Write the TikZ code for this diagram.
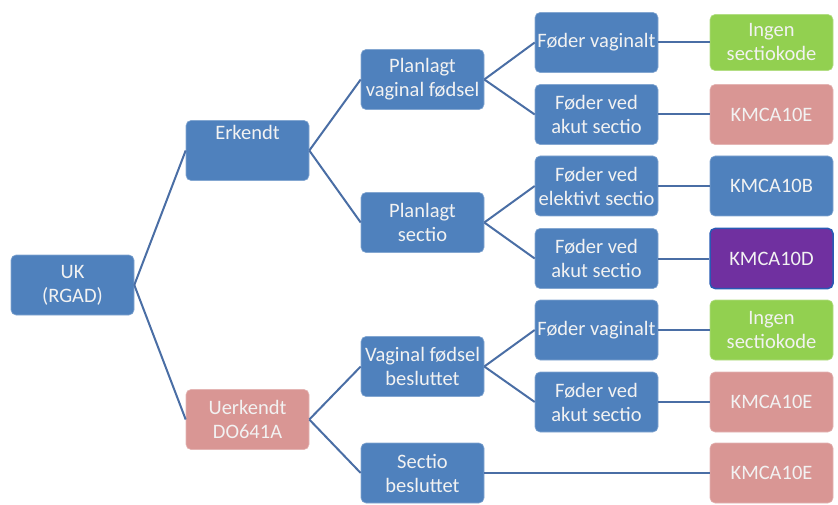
\documentclass[tikz,border=0pt]{standalone}
\usepackage{fontspec}
\setmainfont{Carlito}
\definecolor{bblue}{RGB}{79,129,189}
\definecolor{bpink}{RGB}{217,150,148}
\definecolor{bgreen}{RGB}{146,208,80}
\definecolor{bpurple}{RGB}{112,48,160}
\definecolor{bedge}{RGB}{40,90,180}
\definecolor{lnk}{RGB}{74,110,165}
\definecolor{txt}{RGB}{242,242,242}
\begin{document}
\begin{tikzpicture}[x=1pt,y=-1pt,
  box/.style={rectangle, rounded corners=5pt, minimum width=123pt, minimum height=60pt,
    inner sep=1pt, align=center, text=txt, font=\fontsize{20.5}{24}\selectfont,
    draw=white!80!black, line width=0.6pt},
  bluebox/.style={box, fill=bblue, draw=bblue!70!white},
  pinkbox/.style={box, fill=bpink, draw=bpink!70!white},
  greenbox/.style={box, fill=bgreen, draw=bgreen!70!white},
  purplebox/.style={box, fill=bpurple, draw=bedge, line width=1.5pt},
  link/.style={draw=lnk, line width=2pt}]
\useasboundingbox (0,0) rectangle (838,505);
% level 0
\node[bluebox] (uk) at (72.5,285) {UK\\(RGAD)};
% level 1
\node[bluebox] (erk) at (247.5,150.5) {\raisebox{36pt}{Erkendt}};
\node[pinkbox] (uerk) at (247.5,419.5) {Uerkendt\\DO641A};
% level 2
\node[bluebox] (pvf) at (422.5,79.5) {Planlagt\\vaginal fødsel};
\node[bluebox] (ps) at (422.5,222.5) {Planlagt\\sectio};
\node[bluebox] (vfb) at (422.5,366.5) {Vaginal fødsel\\besluttet};
\node[bluebox] (sb) at (422.5,473) {Sectio\\besluttet};
% level 3
\node[bluebox] (fv1) at (596.5,42.5) {Føder vaginalt};
\node[bluebox] (fa1) at (596.5,114.5) {Føder ved\\akut sectio};
\node[bluebox] (fe) at (596.5,186) {Føder ved\\elektivt sectio};
\node[bluebox] (fa2) at (596.5,258.5) {Føder ved\\akut sectio};
\node[bluebox] (fv2) at (596.5,330) {Føder vaginalt};
\node[bluebox] (fa3) at (596.5,402) {Føder ved\\akut sectio};
% level 4
\node[greenbox, minimum height=56pt] (r1) at (771.5,42.5) {Ingen\\sectiokode};
\node[pinkbox] (r2) at (771.5,114.5) {KMCA10E};
\node[bluebox] (r3) at (771.5,186) {KMCA10B};
\node[purplebox] (r4) at (771.5,258.5) {KMCA10D};
\node[greenbox] (r5) at (771.5,330) {Ingen\\sectiokode};
\node[pinkbox] (r6) at (771.5,402) {KMCA10E};
\node[pinkbox] (r7) at (771.5,473) {KMCA10E};
% connectors
\draw[link] (uk.east) -- (erk.west);
\draw[link] (uk.east) -- (uerk.west);
\draw[link] (erk.east) -- (pvf.west);
\draw[link] (erk.east) -- (ps.west);
\draw[link] (uerk.east) -- (vfb.west);
\draw[link] (uerk.east) -- (sb.west);
\draw[link] (pvf.east) -- (fv1.west);
\draw[link] (pvf.east) -- (fa1.west);
\draw[link] (ps.east) -- (fe.west);
\draw[link] (ps.east) -- (fa2.west);
\draw[link] (vfb.east) -- (fv2.west);
\draw[link] (vfb.east) -- (fa3.west);
\draw[link] (fv1.east) -- (r1.west);
\draw[link] (fa1.east) -- (r2.west);
\draw[link] (fe.east) -- (r3.west);
\draw[link] (fa2.east) -- (r4.west);
\draw[link] (fv2.east) -- (r5.west);
\draw[link] (fa3.east) -- (r6.west);
\draw[link] (sb.east) -- (r7.west);
\end{tikzpicture}
\end{document}
